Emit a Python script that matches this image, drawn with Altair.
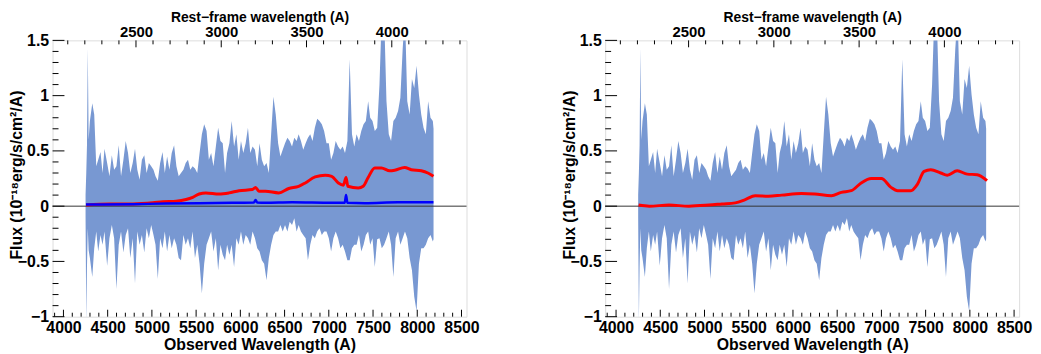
import altair as alt
import pandas as pd

# ---------------- data ----------------
# observed spectrum, drawn as an envelope (upper / lower flux) per wavelength sample
wave = [4250, 4258, 4266, 4275, 4285, 4299, 4326, 4348, 4371, 4393, 4419, 4442, 4464, 4494,
        4520, 4547, 4573, 4599, 4625, 4651, 4678, 4704, 4730, 4756, 4783, 4809, 4835, 4861,
        4887, 4914, 4940, 4966, 4992, 5018,
        5041, 5067, 5093, 5120, 5146, 5172, 5198, 5224, 5251, 5277, 5303, 5329, 5356, 5382,
        5408, 5434, 5460, 5487, 5513, 5539, 5565, 5591, 5618, 5644, 5670, 5696, 5723, 5749,
        5775, 5801, 5827,
        5850, 5876, 5902, 5929, 5955, 5981, 6007, 6033, 6060, 6086, 6112, 6138, 6165, 6191,
        6217, 6243, 6269, 6296, 6322, 6348, 6374, 6400, 6427, 6453, 6479, 6505, 6532, 6558,
        6584, 6610, 6636,
        6659, 6685, 6711, 6738, 6764, 6790, 6816, 6842, 6869, 6895, 6921, 6947, 6974, 7000,
        7026, 7052, 7078, 7105, 7131, 7157, 7183, 7210, 7236, 7262, 7288, 7314, 7341, 7367,
        7393, 7419, 7445,
        7468, 7494, 7520, 7547, 7573, 7599, 7625, 7652, 7678, 7704, 7730, 7756, 7783, 7809,
        7835, 7861, 7887, 7914, 7940, 7966, 7992, 8019, 8045, 8071, 8097, 8123, 8150, 8176,
        8184]
flux_hi = [0.10, 0.30, 0.55, 1.43, 0.60, 0.77, 0.93, 0.83, 0.36, 0.42, 0.49, 0.30, 0.52, 0.39,
           0.27, 0.46, 0.33, 0.36, 0.55, 0.27, 0.42, 0.59, 0.48, 0.30, 0.39, 0.52, 0.33, 0.24,
           0.42, 0.46, 0.30, 0.39, 0.36, 0.33,
           0.27, 0.23, 0.39, 0.49, 0.30, 0.45, 0.33, 0.48, 0.55, 0.36, 0.27, 0.30, 0.33, 0.39,
           0.42, 0.33, 0.36, 0.34, 0.30, 0.48, 0.65, 0.74, 0.68, 0.42, 0.48, 0.36, 0.54, 0.71,
           0.59, 0.57, 0.30,
           0.48, 0.57, 0.77, 0.54, 0.65, 0.42, 0.59, 0.48, 0.57, 0.71, 0.48, 0.54, 0.51, 0.36,
           0.57, 0.42, 0.36, 0.39, 0.30, 0.65, 0.99, 0.83, 0.57, 0.45, 0.51, 0.57, 0.62, 0.59,
           0.54, 0.62, 0.59,
           0.65, 0.59, 0.51, 0.57, 0.62, 0.65, 0.59, 0.71, 0.79, 0.77, 0.74, 0.68, 0.57, 0.57,
           0.42, 0.48, 0.59, 0.54, 0.51, 0.54, 0.48, 0.59, 1.33, 0.65, 0.54, 0.65, 0.59, 0.68,
           0.74, 0.77, 0.95,
           0.80, 0.77, 0.68, 0.71, 1.10, 1.75, 1.75, 0.95, 0.65, 0.59, 0.77, 0.80, 0.86, 0.98,
           1.42, 1.75, 0.95, 0.83, 1.15, 1.07, 1.27, 1.01, 0.83, 0.71, 0.65, 0.95, 0.80, 0.77,
           0.70]
flux_lo = [-0.10, -1.05, -0.55, -0.20, -0.40, -0.47, -0.64, -0.38, -0.23, -0.41, -0.26, -0.35, -0.23, -0.54,
           -0.29, -0.17, -0.29, -0.75, -0.35, -0.23, -0.42, -0.26, -0.20, -0.47, -0.29, -0.70, -0.23, -0.35,
           -0.26, -0.42, -0.20, -0.29, -0.17, -0.26,
           -0.35, -0.66, -0.29, -0.38, -0.23, -0.41, -0.26, -0.38, -0.29, -0.35, -0.47, -0.49, -0.26, -0.35,
           -0.29, -0.38, -0.23, -0.47, -0.35, -0.52, -0.79, -0.52, -0.35, -0.29, -0.23, -0.41, -0.29, -0.58,
           -0.35, -0.44, -0.49,
           -0.35, -0.44, -0.35, -0.55, -0.29, -0.35, -0.23, -0.35, -0.26, -0.29, -0.35, -0.23, -0.29, -0.38,
           -0.41, -0.49, -0.52, -0.67, -0.47, -0.35, -0.26, -0.23, -0.23, -0.17, -0.23, -0.17, -0.23, -0.14,
           -0.17, -0.11, -0.23,
           -0.17, -0.23, -0.26, -0.29, -0.49, -0.35, -0.26, -0.29, -0.23, -0.20, -0.26, -0.23, -0.23, -0.29,
           -0.41, -0.29, -0.23, -0.29, -0.38, -0.35, -0.41, -0.49, -0.49, -0.38, -0.35, -0.35, -0.26, -0.41,
           -0.35, -0.26, -0.23,
           -0.35, -0.29, -0.55, -0.30, -0.29, -0.38, -0.35, -0.29, -0.23, -0.35, -0.64, -0.29, -0.23, -0.35,
           -0.29, -0.23, -0.29, -0.47, -0.58, -0.82, -0.95, -0.52, -0.38, -0.38, -0.35, -0.29, -0.26, -0.32,
           -0.30]

# model fit, left panel (red)
left_model_w = [4255, 4524, 4786, 5011, 5124, 5273, 5386, 5461, 5535, 5610, 5760, 5872, 5985,
                6135, 6172, 6210, 6284, 6434, 6547, 6659, 6734, 6846, 6959, 7033, 7108, 7165,
                7195, 7215, 7333, 7389, 7445, 7520, 7595, 7689, 7745, 7857, 7932, 8045, 8120, 8183]
left_model_f = [0.01, 0.02, 0.02, 0.03, 0.04, 0.045, 0.06, 0.08, 0.11, 0.12, 0.11, 0.12, 0.14,
                0.15, 0.17, 0.135, 0.135, 0.12, 0.16, 0.18, 0.21, 0.265, 0.28, 0.27, 0.21, 0.19,
                0.26, 0.18, 0.165, 0.18, 0.26, 0.345, 0.345, 0.32, 0.325, 0.35, 0.33, 0.32, 0.30, 0.27]

# flux error, left panel (blue)
err_w = [4255, 4786, 5161, 5535, 5910, 6153, 6172, 6191, 6284, 6584, 7033, 7180, 7195, 7210,
         7408, 7782, 8183]
err_f = [0.015, 0.018, 0.024, 0.027, 0.03, 0.032, 0.056, 0.032, 0.03, 0.035, 0.03, 0.03, 0.10,
         0.03, 0.027, 0.035, 0.035]

# model fit, right panel (red)
right_model_w = [4255, 4375, 4599, 4824, 5049, 5198, 5348, 5461, 5573, 5723, 5873, 6097, 6247,
                 6434, 6547, 6659, 6771, 6884, 7000, 7108, 7183, 7333, 7408, 7483, 7558, 7670,
                 7745, 7857, 7970, 8082, 8194]
right_model_f = [0.01, 0.0, 0.01, 0.0, 0.01, 0.02, 0.03, 0.06, 0.095, 0.09, 0.10, 0.115, 0.11,
                 0.095, 0.125, 0.14, 0.21, 0.25, 0.25, 0.17, 0.14, 0.14, 0.20, 0.315, 0.33, 0.30,
                 0.28, 0.32, 0.29, 0.285, 0.23]

# axes / ticks
x_major = [4000, 4500, 5000, 5500, 6000, 6500, 7000, 7500, 8000, 8500]
x_minor = [v for v in range(3900, 8600, 100) if v % 500 != 0]
y_major = [-1, -0.5, 0, 0.5, 1, 1.5]
y_minor = [round(-1 + 0.1 * i, 1) for i in range(26) if i % 5 != 0]
rest_major = [2500, 3000, 3500, 4000]
rest_minor = [v for v in range(2100, 4500, 100) if v % 500 != 0]

ONE_PLUS_Z = 1.928
X_DOMAIN = [3877, 8557]
Y_DOMAIN = [-1, 1.5]
REST_DOMAIN = [X_DOMAIN[0] / ONE_PLUS_Z, X_DOMAIN[1] / ONE_PLUS_Z]

W, H = 418, 279
FONT = "Liberation Sans"
FILL = "#7898d2"
AX = dict(labelFont=FONT, labelFontWeight="bold", labelColor="black",
          titleFont=FONT, titleFontWeight="bold", titleColor="black",
          ticks=False, domain=False, grid=False, labelFlush=False, labelOverlap=False)


def xs():
    return alt.Scale(domain=X_DOMAIN, nice=False, zero=False)


def ys():
    return alt.Scale(domain=Y_DOMAIN, nice=False, zero=False)


def yaxis():
    return alt.Axis(orient="left", values=y_major, labelExpr="format(datum.value, '~g')",
                    title="Flux (10⁻¹⁸erg/s/cm²/A)", labelPadding=4,
                    labelFontSize=16, titleFontSize=16,
                    titleAngle=270, titleX=-31, titleY=H / 2 - 4, titleAlign="center",
                    titleBaseline="alphabetic", **AX)


def panel(model_w, model_f, with_err):
    spec = pd.DataFrame({"w": wave, "hi": flux_hi, "lo": flux_lo})
    area = alt.Chart(spec).mark_area(color=FILL, clip=True, opacity=1).encode(
        x=alt.X("w:Q", scale=xs(), axis=alt.Axis(
            orient="bottom", values=x_major, format="d", title="Observed Wavelength (A)",
            labelPadding=3, titlePadding=1, labelFontSize=16, titleFontSize=16, **AX)),
        y=alt.Y("hi:Q", scale=ys(), axis=yaxis()),
        y2="lo:Q",
    )
    zero = alt.Chart(pd.DataFrame({"v": [0]})).mark_rule(color="#333333", strokeWidth=1).encode(
        y=alt.Y("v:Q", scale=ys(), axis=yaxis()))
    layers = [area, zero]
    red = alt.Chart(pd.DataFrame({"w": model_w, "f": model_f})).mark_line(
        color="#ff0000", strokeWidth=3, interpolate="monotone", clip=True).encode(
        x=alt.X("w:Q", scale=xs(), axis=None), y=alt.Y("f:Q", scale=ys(), axis=yaxis()))
    layers.append(red)
    if with_err:
        blue = alt.Chart(pd.DataFrame({"w": err_w, "f": err_f})).mark_line(
            color="#0000ff", strokeWidth=2.5, interpolate="monotone", clip=True).encode(
            x=alt.X("w:Q", scale=xs(), axis=None), y=alt.Y("f:Q", scale=ys(), axis=yaxis()))
        layers.append(blue)
    # inward ticks
    xt_major = alt.Chart(pd.DataFrame({"t": x_major})).mark_rule(color="black", strokeWidth=1).encode(
        x=alt.X("t:Q", scale=xs(), axis=None), y=alt.value(H), y2=alt.value(H - 7))
    xt_minor = alt.Chart(pd.DataFrame({"t": x_minor})).mark_rule(color="black", strokeWidth=1).encode(
        x=alt.X("t:Q", scale=xs(), axis=None), y=alt.value(H), y2=alt.value(H - 4))
    yt_major = alt.Chart(pd.DataFrame({"t": y_major})).mark_rule(color="black", strokeWidth=1).encode(
        y=alt.Y("t:Q", scale=ys(), axis=yaxis()), x=alt.value(0), x2=alt.value(12))
    yt_minor = alt.Chart(pd.DataFrame({"t": y_minor})).mark_rule(color="black", strokeWidth=1).encode(
        y=alt.Y("t:Q", scale=ys(), axis=yaxis()), x=alt.value(0), x2=alt.value(6))
    layers += [xt_major, xt_minor, yt_major, yt_minor]

    rs = alt.Scale(domain=REST_DOMAIN, nice=False, zero=False)
    rt_major = alt.Chart(pd.DataFrame({"r": rest_major})).mark_rule(color="black", strokeWidth=1).encode(
        x=alt.X("r:Q", scale=rs, axis=alt.Axis(
            orient="top", values=rest_major, format="d", title="Rest−frame wavelength (A)",
            labelPadding=1, titlePadding=0, labelFontSize=15, titleFontSize=14, **AX)),
        y=alt.value(0), y2=alt.value(7))
    rt_minor = alt.Chart(pd.DataFrame({"r": rest_minor})).mark_rule(color="black", strokeWidth=1).encode(
        x=alt.X("r:Q", scale=rs, axis=None), y=alt.value(0), y2=alt.value(4))
    layers += [rt_major, rt_minor]

    return alt.layer(*layers).resolve_scale(x="independent").properties(width=W, height=H)


left = panel(left_model_w, left_model_f, True)
right = panel(right_model_w, right_model_f, False)

chart = alt.hconcat(left, right, spacing=81).properties(
    padding={"left": 0, "top": 0, "right": 0, "bottom": 0}
).configure_view(stroke="black", strokeWidth=1).configure(background="white")

chart.save("out.html", embed_options={"renderer": "svg", "actions": False})
